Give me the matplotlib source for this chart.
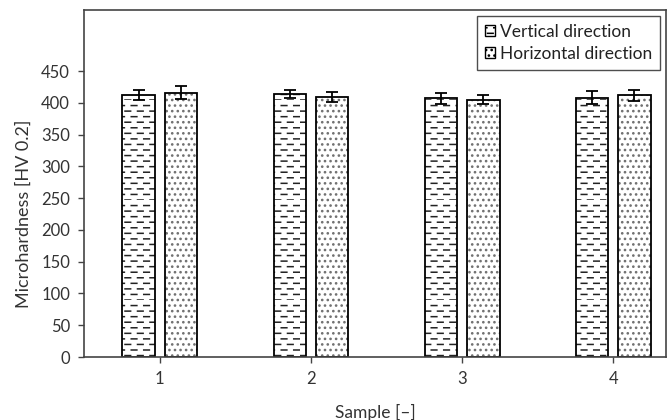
import numpy as np
import matplotlib
matplotlib.use("Agg")
import matplotlib.pyplot as plt
import matplotlib.hatch as mhatch
from matplotlib.patches import Patch
from matplotlib.path import Path

samples = ["1", "2", "3", "4"]
vertical = [412, 414, 407, 408]
vertical_err = [8, 7, 9, 10]
horizontal = [416, 409, 405, 412]
horizontal_err = [10, 8, 7, 9]
yticks = [0, 50, 100, 150, 200, 250, 300, 350, 400, 450]

DASHES = 8  # dashes per hatch tile (one inch)


class DashedHorizontalHatch(mhatch.HatchPatternBase):
    """'-' hatch drawn as staggered short dashes instead of solid lines."""

    def __init__(self, hatch, density):
        self.num_lines = int((hatch.count('-') + hatch.count('+')) * density)
        self.num_vertices = self.num_lines * DASHES * 2

    def set_vertices_and_codes(self, vertices, codes):
        rows = np.linspace(0, 1, self.num_lines, endpoint=False)
        length = 0.45 / DASHES
        k = 0
        for i, y in enumerate(rows):
            shift = 0.5 / DASHES if i % 2 else 0.0
            for j in range(DASHES):
                x0 = j / DASHES + shift
                vertices[k] = (x0, y)
                vertices[k + 1] = (x0 + length, y)
                k += 2
        codes[0::2] = Path.MOVETO
        codes[1::2] = Path.LINETO


mhatch._hatch_types = [DashedHorizontalHatch if t is mhatch.HorizontalHatch else t
                       for t in mhatch._hatch_types]

plt.rcParams["font.family"] = ["Lato", "DejaVu Sans"]
plt.rcParams["hatch.linewidth"] = 1.1

fig = plt.figure(figsize=(6.71, 4.2), dpi=100)
ax = fig.add_axes([0.125, 0.15, 0.868, 0.826])

x = np.arange(1, len(samples) + 1)
w = 0.215
off = 0.14
err_kw = dict(ecolor="black", elinewidth=1.3, capsize=4, capthick=1.3)

# hatch fills first (hatch colour follows edgecolor), then the black outlines
ax.bar(x - off, vertical, w, color="white", edgecolor="#222222", linewidth=0,
       hatch="---")
ax.bar(x + off, horizontal, w, color="white", edgecolor="#707070", linewidth=0,
       hatch="...")
ax.bar(x - off, vertical, w, yerr=vertical_err, fill=False, edgecolor="black",
       linewidth=1.3, error_kw=err_kw)
ax.bar(x + off, horizontal, w, yerr=horizontal_err, fill=False, edgecolor="black",
       linewidth=1.3, error_kw=err_kw)

# legend proxies
handles = [
    Patch(facecolor="white", edgecolor="black", hatch="---", linewidth=1.0,
          label="Vertical direction"),
    Patch(facecolor="white", edgecolor="black", hatch="...", linewidth=1.0,
          label="Horizontal direction"),
]

ax.set_xlim(0.497, 4.351)
ax.set_ylim(0, 546)
ax.set_xticks(x)
ax.set_xticklabels(samples)
ax.set_yticks(yticks)
ax.tick_params(axis="both", labelsize=12, color="#444444", length=4, width=1,
               labelcolor="#333333", pad=6)
for s in ax.spines.values():
    s.set_color("#444444")
    s.set_linewidth(1.2)

ax.set_xlabel("Sample [\u2013]", fontsize=12.5, color="#333333", labelpad=12)
ax.set_ylabel("Microhardness [HV 0.2]", fontsize=13, color="#333333")
# label sits centred on the 0-450 tick range, not on the whole axis
ax.yaxis.set_label_coords(-0.09, 225 / 546)

leg = ax.legend(handles=handles, loc="upper right", fontsize=12.5, frameon=True,
                fancybox=False, handlelength=0.6, handleheight=0.6,
                handletextpad=0.3, borderpad=0.45, labelspacing=0.35,
                borderaxespad=0.35)
leg.get_frame().set_edgecolor("#222222")
leg.get_frame().set_linewidth(1.0)
for t in leg.get_texts():
    t.set_color("#222222")

fig.savefig("out.png", dpi=100)
